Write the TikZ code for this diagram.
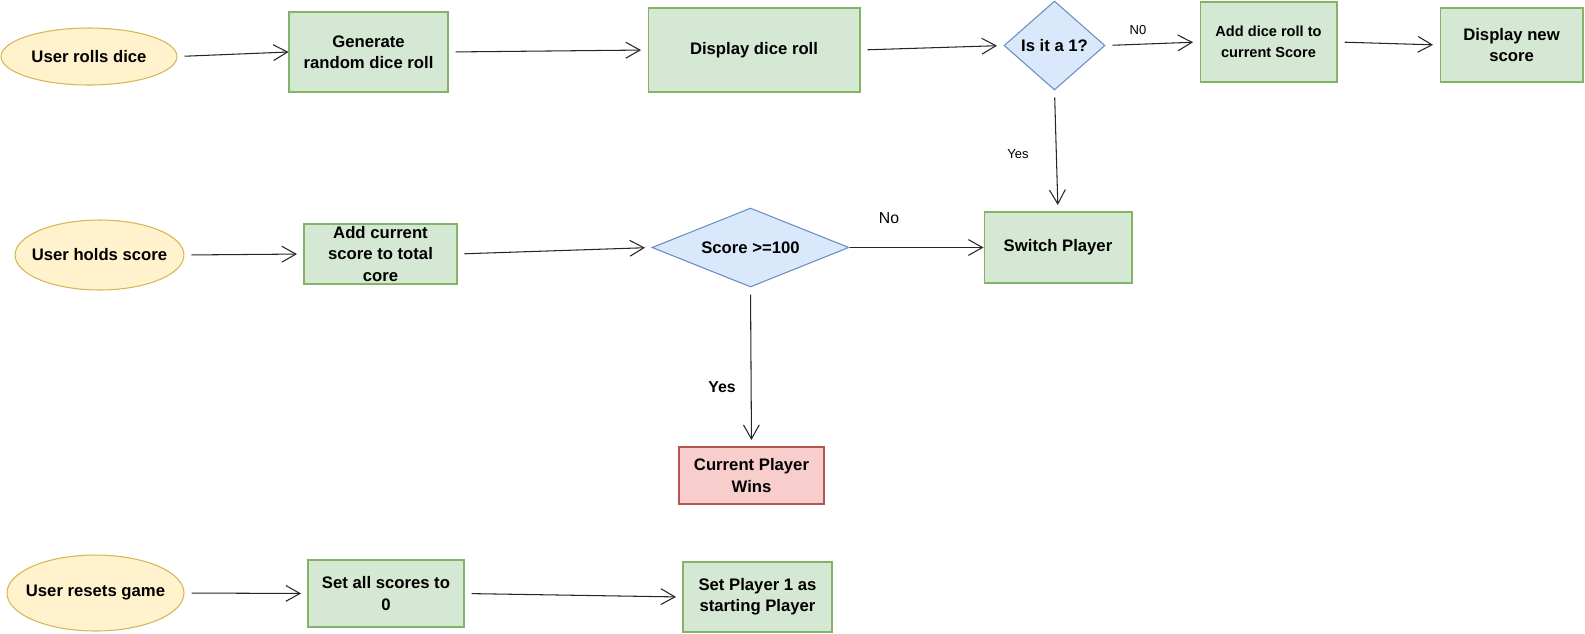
\documentclass[tikz,border=0pt]{standalone}
\usepackage{fontspec}
\setmainfont{Liberation Sans}
\usepackage{xcolor}
\usepackage{tikz}
\usetikzlibrary{arrows.meta,shapes.geometric}
\definecolor{greenfill}{HTML}{D5E8D4}
\definecolor{greenline}{HTML}{82B366}
\definecolor{yellowfill}{HTML}{FFF2CC}
\definecolor{yellowline}{HTML}{D6B656}
\definecolor{bluefill}{HTML}{DAE8FC}
\definecolor{blueline}{HTML}{6C8EBF}
\definecolor{redfill}{HTML}{F8CECC}
\definecolor{redline}{HTML}{B85450}

\tikzset{
  boxfont/.style={font=\bfseries\fontsize{9.5}{12}\selectfont},
  event/.style={ellipse,draw=yellowline,fill=yellowfill,line width=0.6pt,inner sep=0pt,boxfont},
  action/.style={rectangle,draw=greenline,fill=greenfill,line width=0.6pt,inner sep=0pt,align=center,boxfont},
  winbox/.style={action,draw=redline,fill=redfill},
  choice/.style={diamond,draw=blueline,fill=bluefill,line width=0.6pt,inner sep=0pt,align=center,boxfont},
  flow/.style={draw=black!85,line width=0.6pt,-{Straight Barb[length=8pt,width=9pt]},shorten <=0.14cm,shorten >=0.13cm},
  tag/.style={font=\fontsize{7.4}{9}\selectfont}
}

\begin{document}
\begin{tikzpicture}[x=0.02cm,y=-0.02cm]
  % canvas = reference size in px, y grows downwards
  \useasboundingbox (0,0) rectangle (1585,633);
  % row 1: rolling the dice
  \node[event,minimum width=3.52cm,minimum height=1.14cm] (roll) at (89,56.5) {User rolls dice};
  \node[action,minimum width=3.18cm,minimum height=1.6cm] (gen) at (368.5,52) {Generate\\random dice roll};
  \node[action,minimum width=4.24cm,minimum height=1.68cm] (disp) at (754,50) {Display dice roll};
  \node[choice,minimum width=2.02cm,minimum height=1.78cm,shape aspect=1.12] (isone) at (1054.5,45.5) {Is it a 1?};
  \node[action,minimum width=2.74cm,minimum height=1.6cm,font=\bfseries\fontsize{8.3}{12}\selectfont] (add) at (1268.5,42) {Add dice roll to\\current Score};
  \node[action,minimum width=2.86cm,minimum height=1.48cm] (newscore) at (1511.5,45) {Display new\\score};
  % row 2: holding the score
  \node[event,inner xsep=-0.16cm,minimum width=3.22cm,minimum height=1.4cm] (hold) at (99.5,255) {User holds score};
  \node[action,minimum width=3.06cm,minimum height=1.2cm] (addcur) at (380.5,254) {Add current\\score to total\\core};
  \node[choice,minimum width=3.94cm,minimum height=1.58cm,shape aspect=2.49] (hundred) at (750.5,247.5) {Score >=100};
  \node[action,minimum width=2.96cm,minimum height=1.42cm] (switch) at (1058,247.5) {Switch Player};
  \node[winbox,minimum width=2.9cm,minimum height=1.14cm] (wins) at (751.5,475.5) {Current Player\\Wins};
  % row 3: resetting the game
  \node[event,inner xsep=-0.14cm,minimum width=3.42cm,minimum height=1.52cm] (reset) at (95.5,593) {User resets game};
  \node[action,minimum width=3.12cm,minimum height=1.34cm] (zero) at (386,593.5) {Set all scores to\\0};
  \node[action,minimum width=2.98cm,minimum height=1.4cm] (first) at (757.5,597) {Set Player 1 as\\starting Player};
  % connectors
  \draw[flow,shorten >=0pt] (roll.east) -- (gen.west);
  \foreach \a/\b in {gen/disp,disp/isone,isone/add,add/newscore,hold/addcur,addcur/hundred,reset/zero,zero/first}
    \draw[flow] (\a.east) -- (\b.west);
  \draw[flow,shorten <=0pt,shorten >=0pt] (hundred.east) -- (switch.west);
  \draw[flow] (isone.south) -- (switch.north);
  \draw[flow] (hundred.south) -- (wins.north);
  % branch labels
  \node[tag] (lblno1) at (1138,30) {N0};
  \node[tag] (lblyes1) at (1018,154) {Yes};
  \node[font=\fontsize{9}{11}\selectfont] (lblno2) at (889,218) {No};
  \node[font=\bfseries\fontsize{9}{11}\selectfont] (lblyes2) at (722,387) {Yes};
\end{tikzpicture}
\end{document}
